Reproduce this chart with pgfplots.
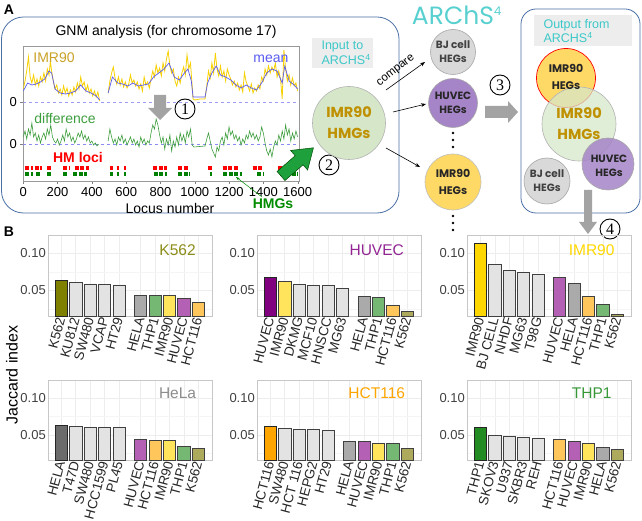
\documentclass[border=0pt]{standalone}
\usepackage{fontspec}
\setmainfont{Liberation Sans}
\newfontfamily\geo{Poppins}
\newfontfamily\sernum{Liberation Serif}
\usepackage{pgfplots}
\pgfplotsset{compat=1.18}
\usetikzlibrary{arrows.meta}

\definecolor{boxblue}{HTML}{4A6FA5}
\definecolor{tealx}{HTML}{3CC8C8}
\definecolor{hmgfill}{HTML}{D6E7C9}
\definecolor{huvfill}{HTML}{A584C7}
\definecolor{imrfill}{HTML}{FFD966}
\definecolor{bjfill}{HTML}{D9D9D9}
\definecolor{goldtxt}{HTML}{BF9000}
\definecolor{agrey}{HTML}{A3A3A3}
\definecolor{imrtrace}{HTML}{F7D000}
\definecolor{meanblue}{HTML}{5A5AF0}
\definecolor{diffgreen}{HTML}{3E9E3E}
\definecolor{bigarrow}{HTML}{1EA03C}
% bar colours
\definecolor{k562own}{HTML}{808000}
\definecolor{k562o}{HTML}{ADAA5E}
\definecolor{huvown}{HTML}{800080}
\definecolor{huvo}{HTML}{B360B5}
\definecolor{imrown}{HTML}{FFD700}
\definecolor{imro}{HTML}{FFE45C}
\definecolor{helaown}{HTML}{6B6B6B}
\definecolor{helao}{HTML}{AAAAAA}
\definecolor{hctown}{HTML}{FFA500}
\definecolor{hcto}{HTML}{FFC65C}
\definecolor{thpown}{HTML}{228B22}
\definecolor{thpo}{HTML}{74B874}
\definecolor{othr}{HTML}{E3E3E3}

\newcommand{\fs}[2]{\fontsize{#1}{#2}\selectfont}
\newcommand{\cnum}[2]{\node[circle,draw,line width=0.9pt,minimum size=20pt,inner sep=0pt,font=\sernum\fs{16}{16}] at (#1) {#2};}

\pgfplotsset{
 jac/.style={scale only axis,width=164pt,height=81pt,
  xmin=0.08,xmax=11.45,ymin=0.016,ymax=0.124,
  ytick={0.05,0.10},yticklabels={0.05,0.10},minor ytick={0.025,0.075},
  grid=both,grid style={black!7},minor grid style={black!4},
  axis line style={black!22},major tick length=0pt,minor tick length=0pt,
  x tick label style={rotate=75,anchor=east,font=\fs{13.5}{15},text=black!85,inner sep=1.5pt},
  y tick label style={font=\fs{13}{15},text=black!75,inner sep=2pt},
  clip=true},
 bb/.style={ybar,bar shift=0pt,bar width=0.85,draw=black!75,line width=0.6pt,fill=#1},
}

\begin{document}
\begin{tikzpicture}[x=1pt,y=1pt]
\useasboundingbox (0,0) rectangle (642,-521);

% ---------------- panel A ----------------
\node[font=\bfseries\fs{14}{14}] at (9,-10) {A};
\draw[boxblue,line width=0.8pt,rounded corners=22pt] (1.5,-17) rectangle (399,-213);
\node[font=\fs{14}{16}] at (166,-32) {GNM analysis (for chromosome 17)};

\begin{axis}[at={(23.3pt,-181pt)},anchor=south west,scale only axis,width=275.7pt,height=135pt,
 xmin=0,xmax=1608,ymin=0,ymax=135,
 xtick={0,200,...,1600},ytick={37,79},yticklabels={0,0},
 axis line style={black!40},tick align=outside,major tick length=3pt,
 xtick pos=bottom,ytick pos=left,
 tick label style={font=\fs{13}{15}},
 /pgf/number format/assume math mode=true,
 /pgf/number format/set thousands separator={},
 unbounded coords=jump,clip=true]
 \addplot[meanblue!60,dashed,thin] coordinates {(0,79)(1608,79)};
 \addplot[meanblue!70,dashed,thin] coordinates {(0,37)(1608,37)};
 % IMR90 trace
 \addplot[imrtrace,line width=0.8pt] coordinates {
 (0,92)(10,100)(20,110)(30,124)(40,104)(50,98)(60,106)(70,96)(80,102)(90,95)(100,104)(110,99)(120,108)(130,100)(140,112)(150,106)(158,120)(165,110)(175,100)(185,92)(195,96)(205,88)(215,92)(225,86)(235,95)(245,88)(255,93)(265,85)(275,91)(285,86)(295,94)(305,89)(315,98)(325,92)(335,104)(345,95)(355,99)(365,90)(375,96)(385,88)(395,92)(405,85)(415,90)(425,84)(435,89)(445,80)(470,nan)
 (495,88)(505,100)(515,108)(525,114)(535,103)(545,97)(555,104)(565,96)(575,102)(585,94)(595,99)(605,93)(615,97)(625,106)(635,98)(645,101)(655,95)(665,99)(675,92)(685,97)(695,90)(705,104)(715,96)(725,99)(735,93)(745,102)(755,110)(765,104)(775,116)(785,108)(795,113)(805,105)(815,118)(825,110)(835,122)(845,130)(855,115)(865,108)(875,112)(885,100)(895,95)(905,104)(915,98)(925,108)(935,114)(945,106)(955,126)(965,112)(975,118)(985,95)(990,82)(1000,81)(1030,82)(1060,82)
 (1070,95)(1080,110)(1090,103)(1100,118)(1110,108)(1120,128)(1130,112)(1140,105)(1150,115)(1160,104)(1170,110)(1180,100)(1190,112)(1200,106)(1210,102)(1220,96)(1230,100)(1240,94)(1250,98)(1260,91)(1270,96)(1280,89)(1290,108)(1300,99)(1310,95)(1320,90)(1330,97)(1340,88)(1350,93)(1360,90)(1370,96)(1380,92)(1390,104)(1400,100)(1410,112)(1420,106)(1430,115)(1440,108)(1450,114)(1460,110)(1470,118)(1480,104)(1490,110)(1500,102)(1510,82)(1520,131)(1530,112)(1540,100)(1550,106)(1560,96)(1570,103)(1580,95)(1590,98)(1600,90)};
 % mean
 \addplot[meanblue,line width=0.7pt] coordinates {
 (0,90)(25,98)(50,96)(75,97)(100,99)(125,102)(150,110)(165,108)(185,92)(215,88)(245,87)(275,88)(305,90)(335,96)(365,90)(395,88)(425,85)(445,81)(470,nan)
 (495,88)(520,104)(550,98)(580,97)(610,95)(640,98)(670,95)(700,96)(730,97)(760,104)(790,108)(820,112)(850,118)(880,104)(910,101)(940,108)(960,112)(980,100)(990,84)(1000,84)(1060,84)
 (1075,98)(1100,108)(1125,115)(1150,106)(1180,104)(1210,101)(1240,96)(1270,93)(1300,96)(1330,93)(1360,91)(1390,98)(1420,108)(1450,112)(1480,110)(1510,98)(1525,115)(1550,100)(1580,96)(1600,92)};
 % difference
 \addplot[diffgreen,line width=0.6pt] coordinates {
 (0,44)(10,50)(20,42)(30,52)(40,46)(50,58)(60,44)(70,48)(80,40)(90,46)(100,38)(110,44)(120,48)(130,42)(140,52)(150,46)(160,56)(170,44)(180,40)(190,38)(200,42)(210,36)(220,40)(230,46)(240,40)(250,52)(260,44)(270,48)(280,40)(290,44)(300,38)(310,42)(320,48)(330,44)(340,50)(350,42)(360,46)(370,40)(380,44)(390,38)(400,40)(410,36)(420,38)(430,35)(440,37)(470,nan)
 (495,40)(505,52)(515,44)(525,38)(535,42)(545,36)(555,44)(565,40)(575,46)(585,38)(595,42)(605,36)(615,40)(625,44)(635,38)(645,42)(655,36)(665,40)(675,34)(685,44)(695,38)(705,42)(715,36)(725,40)(735,38)(745,48)(755,56)(765,52)(775,62)(785,56)(795,46)(805,38)(815,44)(825,32)(835,42)(845,36)(855,46)(865,30)(875,40)(885,34)(895,44)(905,36)(915,48)(925,40)(935,46)(945,38)(955,50)(965,44)(975,52)(985,36)(995,34)(1060,35)
 (1070,42)(1080,48)(1090,40)(1100,32)(1110,28)(1120,24)(1130,34)(1140,30)(1150,40)(1160,44)(1170,36)(1180,48)(1190,42)(1200,54)(1210,46)(1220,50)(1230,42)(1240,46)(1250,40)(1260,44)(1270,36)(1280,42)(1290,38)(1300,46)(1310,42)(1320,50)(1330,44)(1340,48)(1350,42)(1360,46)(1370,40)(1380,44)(1390,54)(1400,48)(1410,38)(1420,30)(1430,26)(1440,32)(1450,24)(1460,34)(1470,40)(1480,36)(1490,46)(1500,40)(1510,50)(1520,42)(1530,56)(1540,46)(1550,52)(1560,40)(1570,48)(1580,42)(1590,50)(1600,44)};
 % HM loci and HMGs
 \addplot[red,line width=3.2pt,dash pattern=on 4pt off 1.5pt] coordinates {
 (10,13)(58,13)(58,nan)(68,13)(107,13)(107,nan)(136,13)(165,13)(165,nan)(233,13)(272,13)(272,nan)(301,13)(385,13)(385,nan)(505,13)(525,13)(525,nan)(544,13)(560,13)(560,nan)(587,13)(599,13)(599,nan)(758,13)(836,13)(836,nan)(904,13)(968,13)(968,nan)(1079,13)(1098,13)(1098,nan)(1162,13)(1253,13)(1253,nan)(1337,13)(1399,13)(1399,nan)(1487,13)(1603,13)};
 \addplot[green!50!black,line width=3.2pt,dash pattern=on 4pt off 1.5pt] coordinates {
 (10,7)(58,7)(58,nan)(75,7)(107,7)(107,nan)(136,7)(160,7)(160,nan)(233,7)(262,7)(262,nan)(290,7)(370,7)(370,nan)(505,7)(525,7)(525,nan)(544,7)(560,7)(560,nan)(590,7)(600,7)(600,nan)(760,7)(836,7)(836,nan)(904,7)(975,7)(975,nan)(1090,7)(1100,7)(1100,nan)(1165,7)(1275,7)(1275,nan)(1365,7)(1405,7)(1405,nan)(1495,7)(1510,7)(1510,nan)(1535,7)(1603,7)};
 \draw[black] (rel axis cs:0,0)--(rel axis cs:1,0);
\end{axis}

\node[font=\fs{14}{16}] at (170,-208) {Locus number};
\node[font=\fs{14}{16},text=goldtxt!85] at (54,-58) {IMR90};
\node[font=\fs{14}{16},text=meanblue] at (271,-59) {mean};
\node[font=\fs{14}{16},text=diffgreen] at (65,-118) {difference};
\node[font=\bfseries\fs{14}{16},text=red] at (78,-157) {HM loci};
\node[font=\bfseries\fs{14}{16},text=green!55!black] at (273,-204) {HMGs};
\draw[green!55!black,-{Stealth[length=4pt]},line width=0.5pt] (262,-197)--(236,-177);
\fill[agrey] (154,-95)--(166,-95)--(166,-108)--(172,-108)--(160,-120)--(148,-108)--(154,-108)--cycle;
\cnum{185,-109}{1}
\begin{scope}[shift={(281,-176)},rotate=41]
 \filldraw[fill=bigarrow,draw=green!30!black,line width=0.5pt] (0,-6)--(24,-6)--(24,-13)--(43,0)--(24,13)--(24,6)--(0,6)--cycle;
\end{scope}
\cnum{329,-165}{2}

% input box
\fill[black!7] (312,-38) rectangle (373,-68);
\node[anchor=west,align=left,font=\fs{12.5}{14.5},text=tealx] at (318,-53) {Input to\\ARCHS\textsuperscript{4}};
\node[font=\geo\fs{25}{25},text=tealx!85!white] at (457,-15) {ARChS\textsuperscript{\fs{12}{12}4}};

\filldraw[fill=hmgfill,draw=black!30,line width=0.6pt] (349,-123) circle (36.5);
\node[align=center,font=\geo\bfseries\fs{14.5}{21},text=goldtxt] at (349,-123) {IMR90\\HMGs};

\filldraw[fill=bjfill,draw=black!35,line width=0.6pt] (453,-52) circle (22.5);
\node[align=center,font=\geo\bfseries\fs{10.5}{14},text=black!75] at (453,-52) {BJ cell\\HEGs};
\filldraw[fill=huvfill,draw=black!35,line width=0.6pt] (453,-103) circle (24.5);
\node[align=center,font=\geo\bfseries\fs{10.5}{14},text=black!85] at (453,-103) {HUVEC\\HEGs};
\filldraw[fill=imrfill,draw=black!25,line width=0.6pt] (453,-182) circle (28);
\node[align=center,font=\geo\bfseries\fs{11}{17},text=black!85] at (453,-182) {IMR90\\HEGs};
\foreach \yy in {133,140,147,216,223,230} \fill (453,-\yy) circle (1.3);

\draw[-{Stealth[length=5pt]},line width=0.6pt] (386,-90)--(425,-62);
\node[rotate=38,font=\fs{11.5}{13}] at (396,-71) {compare};
\draw[-{Stealth[length=5pt]},line width=0.6pt] (393,-112)--(426,-104);
\draw[-{Stealth[length=5pt]},line width=0.6pt] (386,-148)--(420,-167);

\cnum{500,-85}{3}
\fill[agrey] (485,-106)--(508,-106)--(508,-101)--(518,-112)--(508,-123)--(508,-118)--(485,-118)--cycle;

% output box
\draw[boxblue,line width=0.8pt,rounded corners=15pt] (521,-9) rectangle (640,-213);
\fill[black!7] (534,-15) rectangle (632,-46);
\node[anchor=west,align=left,font=\fs{12.5}{14.5},text=tealx] at (540,-31) {Output from\\ARCHS\textsuperscript{4}};
\filldraw[fill=imrfill,draw=red,line width=0.7pt] (566,-78) circle (29.5);
\filldraw[fill=hmgfill,fill opacity=0.75,draw=black!30,line width=0.6pt] (579,-124) circle (37);
\filldraw[fill=huvfill,fill opacity=0.85,draw=black!35,line width=0.6pt] (608,-164) circle (26);
\filldraw[fill=bjfill,draw=black!35,line width=0.6pt] (547,-181) circle (23);
\node[align=center,font=\geo\bfseries\fs{11}{17},text=black!85] at (566,-77) {IMR90\\HEGs};
\node[align=center,font=\geo\bfseries\fs{14.5}{21},text=goldtxt] at (579,-124) {IMR90\\HMGs};
\node[align=center,font=\geo\bfseries\fs{10.5}{14},text=black!85] at (609,-166) {HUVEC\\HEGs};
\node[align=center,font=\geo\bfseries\fs{10.5}{14},text=black!75] at (547,-181) {BJ cell\\HEGs};
\fill[agrey] (584,-190)--(592,-190)--(592,-222)--(597,-222)--(588,-234)--(579,-222)--(584,-222)--cycle;
\cnum{610,-229}{4}

% ---------------- panel B ----------------
\node[font=\bfseries\fs{14}{14}] at (9,-232) {B};
\node[rotate=90,font=\fs{16}{18}] at (12,-375) {Jaccard index};

\begin{axis}[jac,at={(48pt,-316pt)},anchor=south west,
 xtick={1,2,3,4,5,6.5,7.5,8.5,9.5,10.5},
 xticklabels={K562,KU812,SW480,VCAP,HT29,HELA,THP1,IMR90,HUVEC,HCT116}]
 \addplot[bb=othr] coordinates {(2,0.0603)(3,0.0589)(4,0.0585)(5,0.0576)};
 \addplot[bb=k562own,draw=black!85] coordinates {(1,0.0638)};
 \addplot[bb=helao] coordinates {(6.5,0.0442)};
 \addplot[bb=thpo] coordinates {(7.5,0.0442)};
 \addplot[bb=imro] coordinates {(8.5,0.0442)};
 \addplot[bb=huvo] coordinates {(9.5,0.0402)};
 \addplot[bb=hcto] coordinates {(10.5,0.0344)};
 \node[font=\fs{15.5}{17},text=k562own!90] at (rel axis cs:0.79,0.81) {K562};
\end{axis}

\begin{axis}[jac,at={(257pt,-316pt)},anchor=south west,
 xtick={1,2,3,4,5,6,7.5,8.5,9.5,10.5},
 xticklabels={HUVEC,IMR90,DKMG,MCF10,HNSCC,MG63,HELA,THP1,HCT116,K562}]
 \addplot[bb=othr] coordinates {(3,0.0580)(4,0.0571)(5,0.0571)(6,0.0531)};
 \addplot[bb=huvown,draw=black!85] coordinates {(1,0.0679)};
 \addplot[bb=imro] coordinates {(2,0.0621)};
 \addplot[bb=helao] coordinates {(7.5,0.0429)};
 \addplot[bb=thpo] coordinates {(8.5,0.0406)};
 \addplot[bb=hcto] coordinates {(9.5,0.0304)};
 \addplot[bb=k562o] coordinates {(10.5,0.0228)};
 \node[font=\fs{15.5}{17},text=huvown!85] at (rel axis cs:0.73,0.81) {HUVEC};
\end{axis}

\begin{axis}[jac,at={(467pt,-316pt)},anchor=south west,
 xtick={1,2,3,4,5,6.5,7.5,8.5,9.5,10.5},
 xticklabels={IMR90,BJ CELL,NHDF,MG63,T98G,HUVEC,HELA,HCT116,THP1,K562}]
 \addplot[bb=othr] coordinates {(2,0.0848)(3,0.0772)(4,0.0741)(5,0.0710)};
 \addplot[bb=imrown,draw=black!85] coordinates {(1,0.1129)};
 \addplot[bb=huvo] coordinates {(6.5,0.0674)};
 \addplot[bb=helao] coordinates {(7.5,0.0598)};
 \addplot[bb=hcto] coordinates {(8.5,0.0429)};
 \addplot[bb=thpo] coordinates {(9.5,0.0313)};
 \addplot[bb=k562o] coordinates {(10.5,0.0183)};
 \node[font=\fs{15.5}{17},text=imrown] at (rel axis cs:0.76,0.81) {IMR90};
\end{axis}

\begin{axis}[jac,at={(48pt,-460pt)},anchor=south west,height=80pt,
 xtick={1,2,3,4,5,6.5,7.5,8.5,9.5,10.5},
 xticklabels={HELA,T47D,SW480,HCC1599,PL45,HUVEC,HCT116,IMR90,THP1,K562}]
 \addplot[bb=othr] coordinates {(2,0.0614)(3,0.0600)(4,0.0595)(5,0.0595)};
 \addplot[bb=helaown,draw=black!85] coordinates {(1,0.0627)};
 \addplot[bb=huvo] coordinates {(6.5,0.0445)};
 \addplot[bb=hcto] coordinates {(7.5,0.0427)};
 \addplot[bb=imro] coordinates {(8.5,0.0427)};
 \addplot[bb=thpo] coordinates {(9.5,0.0341)};
 \addplot[bb=k562o] coordinates {(10.5,0.0314)};
 \node[font=\fs{15.5}{17},text=black!45] at (rel axis cs:0.79,0.83) {HeLa};
\end{axis}

\begin{axis}[jac,at={(257pt,-460pt)},anchor=south west,height=80pt,
 xtick={1,2,3,4,5,6.5,7.5,8.5,9.5,10.5},
 xticklabels={HCT116,SW480,HCT 116,HEPG2,HT29,HELA,HUVEC,IMR90,THP1,K562}]
 \addplot[bb=othr] coordinates {(2,0.0586)(3,0.0577)(4,0.0568)(5,0.0555)};
 \addplot[bb=hctown,draw=black!85] coordinates {(1,0.0614)};
 \addplot[bb=helao] coordinates {(6.5,0.0418)};
 \addplot[bb=huvo] coordinates {(7.5,0.0409)};
 \addplot[bb=imro] coordinates {(8.5,0.0386)};
 \addplot[bb=thpo] coordinates {(9.5,0.0386)};
 \addplot[bb=k562o] coordinates {(10.5,0.0318)};
 \node[font=\fs{15.5}{17},text=hctown] at (rel axis cs:0.73,0.83) {HCT116};
\end{axis}

\begin{axis}[jac,at={(467pt,-460pt)},anchor=south west,height=80pt,
 xtick={1,2,3,4,5,6.5,7.5,8.5,9.5,10.5},
 xticklabels={THP1,SKOV3,U937,SKBR3,REH,HCT116,HUVEC,IMR90,HELA,K562}]
 \addplot[bb=othr] coordinates {(2,0.0491)(3,0.0477)(4,0.0468)(5,0.0459)};
 \addplot[bb=thpown,draw=black!85] coordinates {(1,0.0605)};
 \addplot[bb=hcto] coordinates {(6.5,0.0441)};
 \addplot[bb=huvo] coordinates {(7.5,0.0418)};
 \addplot[bb=imro] coordinates {(8.5,0.0391)};
 \addplot[bb=helao] coordinates {(9.5,0.0332)};
 \addplot[bb=k562o] coordinates {(10.5,0.0305)};
 \node[font=\fs{15.5}{17},text=thpown!90!white] at (rel axis cs:0.76,0.83) {THP1};
\end{axis}
\end{tikzpicture}
\end{document}
